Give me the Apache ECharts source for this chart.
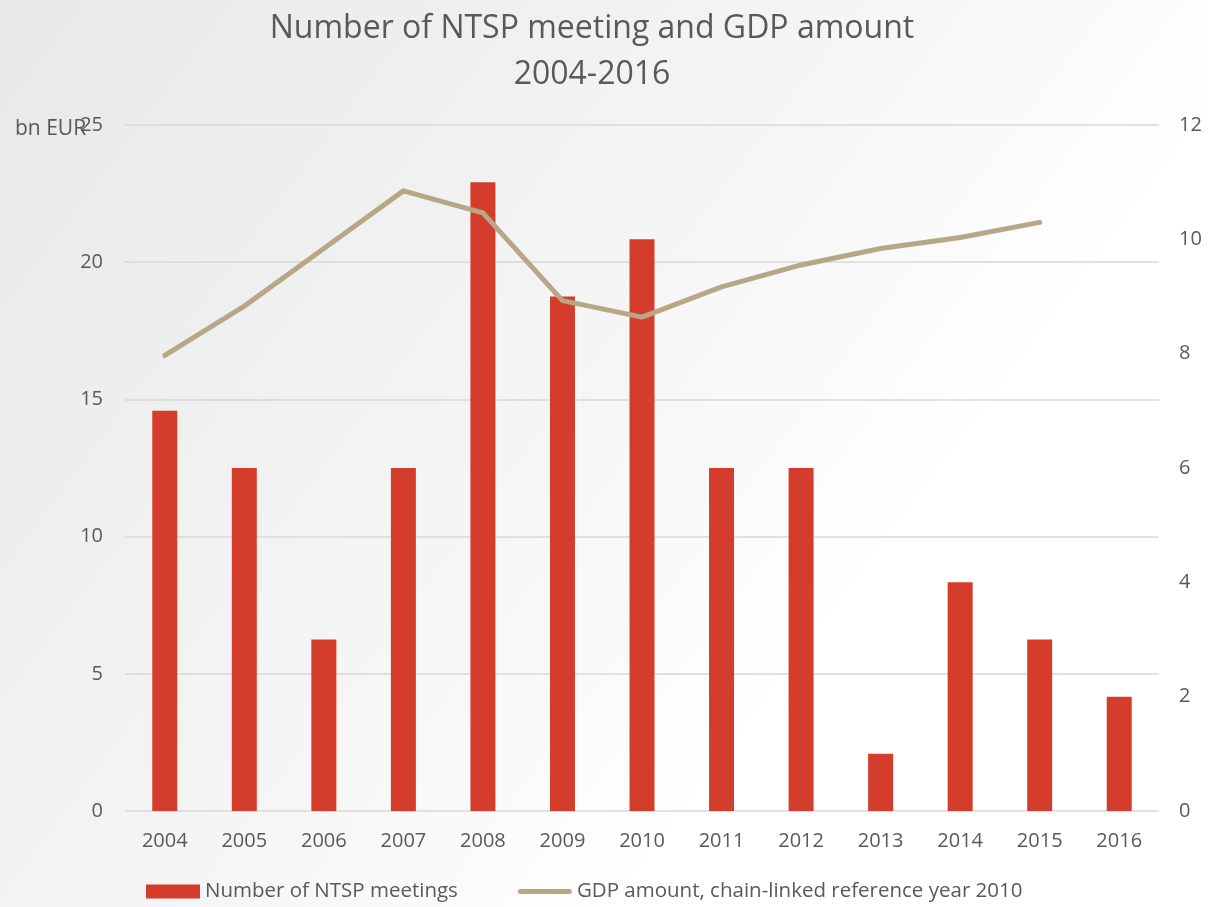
<!DOCTYPE html>
<html>
<head>
<meta charset="utf-8">
<script src="https://cdn.jsdelivr.net/npm/echarts@6/dist/echarts.min.js"></script>
<style>
    html, body { margin: 0; padding: 0; }
    #chart { width: 1208px; height: 907px; }
</style>
</head>
<body>
<div id="chart"></div>
<script>
    var years = ['2004', '2005', '2006', '2007', '2008', '2009', '2010', '2011', '2012', '2013', '2014', '2015', '2016'];
    var meetings = [7, 6, 3, 6, 11, 9, 10, 6, 6, 1, 4, 3, 2];
    var gdp = [16.6, 18.4, 20.5, 22.6, 21.8, 18.6, 18.0, 19.1, 19.9, 20.5, 20.9, 21.45, null];
    var colors = ['#D43D2B', '#B7A786'];
    var font = 'Open Sans';

    var chart = echarts.init(document.getElementById('chart'));
    var option = {
        backgroundColor: {
            type: 'linear', x: 0, y: 0, x2: 1, y2: 1,
            colorStops: [
                { offset: 0, color: '#e7e8e9' },
                { offset: 0.45, color: '#f5f5f5' },
                { offset: 0.7, color: '#ffffff' },
                { offset: 1, color: '#ffffff' }
            ]
        },
        textStyle: { fontFamily: font },
        title: {
            text: 'Number of NTSP meeting and GDP amount\n2004-2016',
            left: 587,
            top: 1,
            textAlign: 'center',
            textStyle: {
                fontFamily: font,
                fontSize: 32,
                fontWeight: 'normal',
                color: '#595959',
                lineHeight: 46
            }
        },
        graphic: [{
            type: 'text',
            left: 15,
            top: 119,
            style: { text: 'bn EUR', font: '21px ' + font, fill: '#595959' }
        }],
        legend: {
            bottom: 0,
            left: 141,
            itemGap: 60,
            itemWidth: 54,
            itemHeight: 14,
            textStyle: { fontFamily: font, fontSize: 20.5, color: '#595959' },
            data: [
                { name: 'Number of NTSP meetings', icon: 'rect' },
                {
                    name: 'GDP amount, chain-linked reference year 2010',
                    icon: 'path://M2.5,0 L51.5,0 A2.5,2.5 0 0 1 51.5,5 L2.5,5 A2.5,2.5 0 0 1 2.5,0 Z'
                }
            ]
        },
        grid: { left: 125, right: 49, top: 125, bottom: 96 },
        xAxis: {
            type: 'category',
            data: years,
            axisLine: { show: false },
            axisTick: { show: false },
            axisLabel: { color: '#595959', fontSize: 20, margin: 20 }
        },
        yAxis: [
            {
                type: 'value',
                min: 0, max: 25, interval: 5,
                position: 'left',
                axisLabel: { color: '#595959', fontSize: 20, margin: 22 },
                splitLine: { lineStyle: { color: '#d9d9d9', width: 1.5 } }
            },
            {
                type: 'value',
                min: 0, max: 12, interval: 2,
                position: 'right',
                axisLabel: { color: '#595959', fontSize: 20, margin: 20 },
                splitLine: { show: false }
            }
        ],
        series: [
            {
                name: 'Number of NTSP meetings',
                type: 'bar',
                yAxisIndex: 1,
                barWidth: 25,
                data: meetings,
                itemStyle: { color: colors[0] }
            },
            {
                name: 'GDP amount, chain-linked reference year 2010',
                type: 'line',
                yAxisIndex: 0,
                symbol: 'none',
                data: gdp,
                lineStyle: { color: colors[1], width: 5, cap: 'round', join: 'round' },
                itemStyle: { color: colors[1] }
            }
        ]
    };
    chart.setOption(option);
</script>
</body>
</html>
